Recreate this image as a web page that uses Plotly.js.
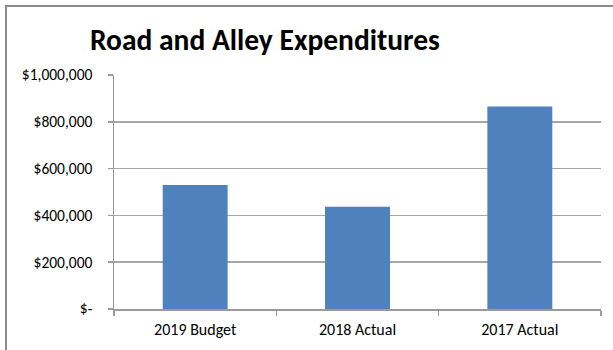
<!DOCTYPE html>
<html>
<head>
<meta charset="utf-8">
<script src="https://cdn.plot.ly/plotly-3.0.1.min.js"></script>
<style>
  html, body { margin: 0; padding: 0; background: #fff; overflow: hidden; }
  #frame { position: absolute; left: 5px; top: 5px; width: 800px; height: 500px;
           border-left: 2px solid #8c8c8c; border-top: 2px solid #8c8c8c; pointer-events: none; z-index: 5; }
  #chart { position: absolute; left: 0; top: 0; width: 613px; height: 350px; }
</style>
</head>
<body>
<div id="chart"></div>
<div id="frame"></div>
<script>
const categories = ["2019 Budget", "2018 Actual", "2017 Actual"];
const expenditures = [530000, 437000, 865000];
const yTickValues = [0, 200000, 400000, 600000, 800000, 1000000];
const yTickLabels = ["$-", "$200,000", "$400,000", "$600,000", "$800,000", "$1,000,000"];
const chartTitle = "Road and Alley Expenditures";

const font = "Carlito, Calibri, Lato, 'Open Sans', sans-serif";

Plotly.newPlot("chart", [{
  type: "bar",
  x: categories,
  y: expenditures,
  marker: { color: "#4f81bd" },
  hoverinfo: "none"
}], {
  width: 613, height: 350,
  margin: { l: 114, r: 12, t: 75, b: 41, pad: 0 },
  paper_bgcolor: "#fff", plot_bgcolor: "#fff",
  bargap: 0.6,
  showlegend: false,
  font: { family: font, color: "#000", size: 15 },
  title: {
    text: "<b>" + chartTitle + "</b>",
    font: { family: font, size: 29.5, color: "#000" },
    xref: "container", x: 90 / 613, xanchor: "left",
    yref: "container", y: 1 - 40 / 350, yanchor: "middle"
  },
  xaxis: {
    type: "category",
    showline: true, linecolor: "#9a9a9a", linewidth: 1.5,
    ticks: "outside", ticklen: 5, tickcolor: "#9a9a9a", tickwidth: 1.5,
    tickson: "boundaries",
    showgrid: false,
    tickfont: { family: font, size: 16, color: "#000" },
    ticklabelstandoff: 5,
    fixedrange: true
  },
  yaxis: {
    range: [0, 1000000],
    tickvals: yTickValues, ticktext: yTickLabels,
    showline: true, linecolor: "#9a9a9a", linewidth: 1.5,
    ticks: "outside", ticklen: 5, tickcolor: "#9a9a9a", tickwidth: 1.5,
    showgrid: true, gridcolor: "#a6a6a6", gridwidth: 1.5,
    zeroline: false,
    tickfont: { family: font, size: 15.5, color: "#000" },
    ticklabelstandoff: 12,
    fixedrange: true
  }
}, { displayModeBar: false, staticPlot: true });
</script>
</body>
</html>
